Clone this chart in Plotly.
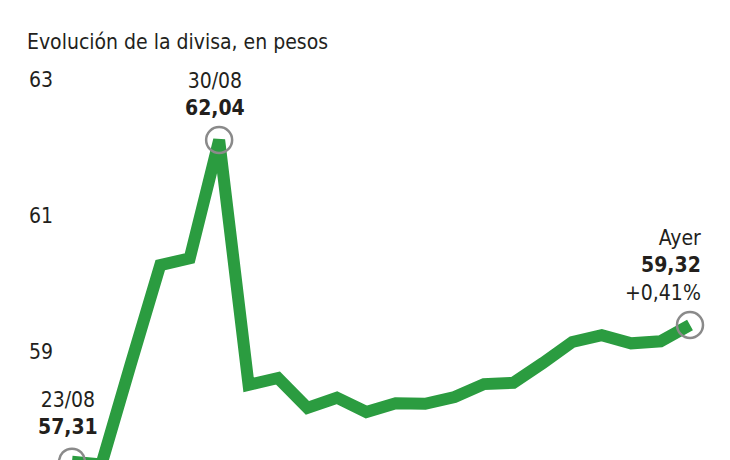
import plotly.graph_objects as go

dates = ["23/08", "26/08", "27/08", "28/08", "29/08", "30/08", "02/09", "03/09",
         "04/09", "05/09", "06/09", "09/09", "10/09", "11/09", "12/09", "13/09",
         "16/09", "17/09", "18/09", "19/09", "20/09", "23/09"]
values = [57.31, 57.27, 58.75, 60.20, 60.30, 62.04, 58.44, 58.54,
          58.10, 58.25, 58.04, 58.17, 58.16, 58.26, 58.45, 58.47,
          58.76, 59.07, 59.17, 59.05, 59.08, 59.32]
tick_vals = [59, 61, 63]
tick_text = ["59", "61", "63"]
title_text = "Evolución de la divisa, en pesos"
highlight_idx = [0, 5, 21]

FONT = "Liberation Sans Narrow, DejaVu Sans Condensed, Roboto, sans-serif"
GREEN = "#2b9c40"
DARK = "#231f1c"

xs = list(range(len(dates)))
Y_MIN = 62.04 - 320 / 68
Y_MAX = 62.04 + 140 / 68

fig = go.Figure()
fig.add_trace(go.Scatter(
    x=xs, y=values, mode="lines",
    line=dict(color=GREEN, width=12, shape="linear"),
    hoverinfo="skip", showlegend=False,
))

# highlight rings (pixel-sized shapes anchored on data points)
for i in highlight_idx:
    fig.add_shape(type="circle", xref="x", yref="y",
                  xsizemode="pixel", ysizemode="pixel",
                  xanchor=xs[i], yanchor=values[i],
                  x0=-13, x1=13, y0=-13, y1=13,
                  line=dict(color="#8a8a8a", width=2.5),
                  fillcolor="rgba(0,0,0,0)", layer="above")

def fmt(v):
    return f"{v:.2f}".replace(".", ",")

def paper_y(v):
    return (v - Y_MIN) / (Y_MAX - Y_MIN)

annotations = []
# first point (anchor just below visible range -> paper coords)
annotations.append(dict(x=xs[0], y=paper_y(values[0]), xref="x", yref="paper",
                        text=f"{dates[0]}<br><b>{fmt(values[0])}</b>",
                        showarrow=False, xanchor="center", yanchor="bottom",
                        xshift=-4, yshift=21, align="center",
                        font=dict(family=FONT, size=21, color=DARK)))
# peak
annotations.append(dict(x=xs[5], y=values[5], xref="x", yref="y",
                        text=f"{dates[5]}<br><b>{fmt(values[5])}</b>",
                        showarrow=False, xanchor="center", yanchor="bottom",
                        xshift=-4, yshift=18, align="center",
                        font=dict(family=FONT, size=21, color=DARK)))
# last
pct = (values[-1] / values[-2] - 1) * 100
annotations.append(dict(x=xs[-1], y=values[-1], xref="x", yref="y",
                        text=f"Ayer<br><b>{fmt(values[-1])}</b><br>+{pct:.2f}%".replace(".", ","),
                        showarrow=False, xanchor="right", yanchor="bottom",
                        xshift=13, yshift=18, align="right",
                        font=dict(family=FONT, size=21, color=DARK)))

fig.update_layout(
    width=730, height=460,
    margin=dict(l=0, r=0, t=0, b=0),
    paper_bgcolor="white", plot_bgcolor="white",
    font=dict(family=FONT, color=DARK),
    title=dict(text=title_text, x=27/730, xanchor="left", y=1-42/460, yanchor="middle",
               font=dict(family=FONT, size=21, color=DARK)),
    xaxis=dict(range=[-72/29.43, 21 + 40/29.43], visible=False, automargin=False),
    yaxis=dict(range=[Y_MIN, Y_MAX], automargin=False,
               tickvals=tick_vals, ticktext=tick_text,
               ticklabelposition="inside", ticklabelstandoff=26, ticklabelshift=5,
               showgrid=False, zeroline=False, showline=False, ticks="",
               tickfont=dict(family=FONT, size=21, color=DARK)),
    annotations=annotations,
)

fig.write_html("out.html", config={"displayModeBar": False},
               post_script="document.body.style.margin='0';document.body.style.overflow='hidden';")
